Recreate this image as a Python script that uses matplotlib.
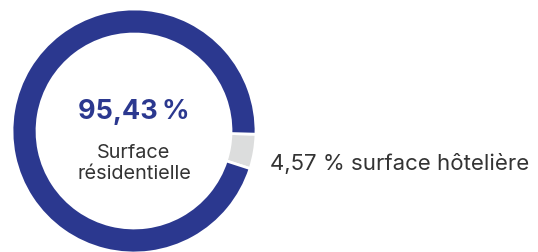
import matplotlib.pyplot as plt

# parts of the surface (percent)
labels = ["surface hôtelière", "Surface résidentielle"]
values = [4.57, 95.43]
colors = ["#DCDDDD", "#2B388F"]

plt.rcParams['font.family'] = ['Inter', 'DejaVu Sans']

fig = plt.figure(figsize=(5.38, 2.53), dpi=100)
ax = fig.add_axes([12 / 538, -1 / 253, 244 / 538, 244 / 253])

ax.pie(values, colors=colors, startangle=-1.5, counterclock=False, radius=1.0,
       wedgeprops=dict(width=0.205, edgecolor="white", linewidth=2))
ax.set_xlim(-1.0, 1.0)
ax.set_ylim(-1.0, 1.0)
ax.set_aspect("equal")
ax.axis("off")

# center text
ax.text(0, 0.16, "95,43\u2009%", ha="center", va="center",
        fontsize=19.5, fontweight="bold", color=colors[1])
ax.text(0, -0.26, "Surface\nrésidentielle", ha="center", va="center",
        fontsize=14.3, color="#333333", linespacing=1.2)

# outside label for small slice
fig.text(270 / 538, 1 - 164 / 253, f"{values[0]:.2f}".replace(".", ",") + " % " + labels[0],
         ha="left", va="center", fontsize=16, color="#333333")

fig.savefig("out.png", dpi=100)
